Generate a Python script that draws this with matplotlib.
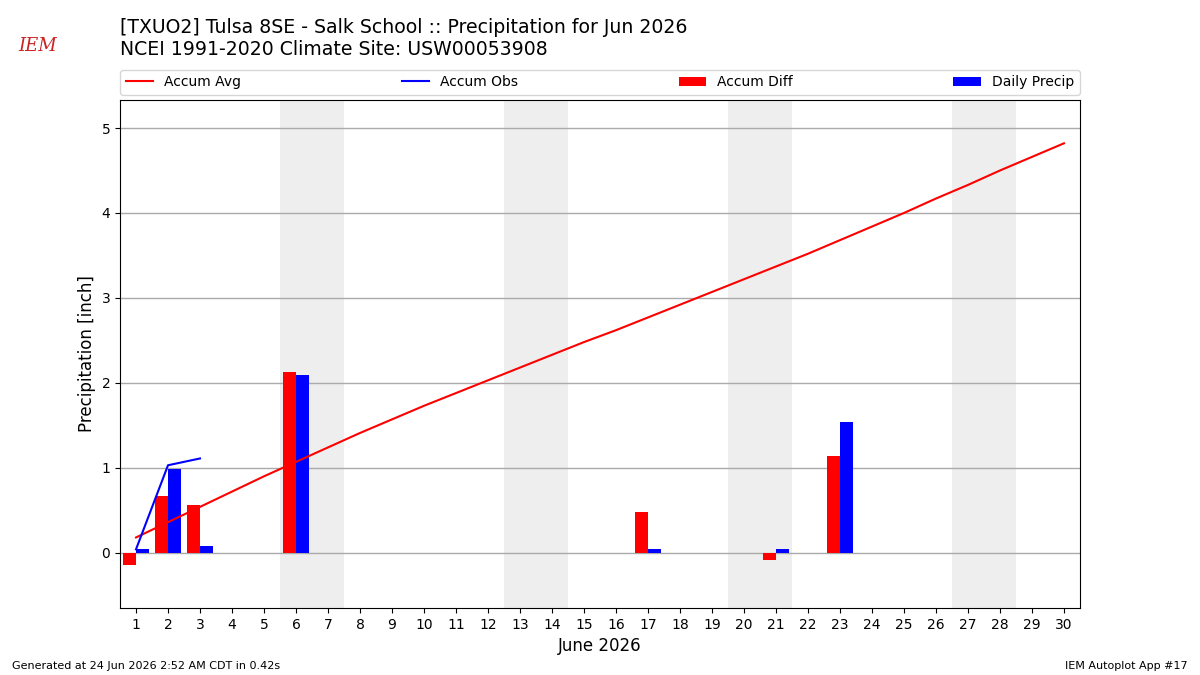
import matplotlib
matplotlib.use("Agg")
import matplotlib.pyplot as plt
import numpy as np

days = list(range(1, 31))
accum_avg = [0.18, 0.36, 0.54, 0.72, 0.90, 1.07, 1.24, 1.41, 1.57, 1.73,
             1.88, 2.03, 2.18, 2.33, 2.48, 2.62, 2.77, 2.92, 3.07, 3.22,
             3.37, 3.52, 3.68, 3.84, 4.00, 4.17, 4.33, 4.50, 4.66, 4.82]
obs_days = [1, 2, 3]
accum_obs = [0.04, 1.03, 1.11]
bar_days = [1, 2, 3, 6, 17, 21, 23]
accum_diff = [-0.14, 0.67, 0.56, 2.13, 0.48, -0.09, 1.14]
daily_precip = [0.04, 0.99, 0.08, 2.09, 0.04, 0.04, 1.54]
weekend_starts = [6, 13, 20, 27]

title = ("[TXUO2] Tulsa 8SE - Salk School :: Precipitation for Jun 2026\n"
         "NCEI 1991-2020 Climate Site: USW00053908")

fig = plt.figure(figsize=(12, 6.75), dpi=100)
ax = fig.add_axes([0.1, 0.0993, 0.8, 0.7526])

for s in weekend_starts:
    ax.axvspan(s - 0.5, s + 1.5, color="#eeeeee", zorder=0, lw=0)

ax.plot(days, accum_avg, color="red", lw=1.5, label="Accum Avg", zorder=3)
ax.plot(obs_days, accum_obs, color="blue", lw=1.5, label="Accum Obs", zorder=3)
ax.bar(np.array(bar_days) - 0.4, accum_diff, width=0.4, align="edge",
       color="red", label="Accum Diff", zorder=2)
ax.bar(np.array(bar_days), daily_precip, width=0.4, align="edge",
       color="blue", label="Daily Precip", zorder=2)

ax.set_xlim(0.5, 30.5)
ax.set_ylim(-0.65, 5.33)
ax.set_xticks(days)
ax.set_yticks([0, 1, 2, 3, 4, 5])
ax.grid(axis="y", color="#aaaaaa", lw=1, zorder=1)
ax.set_axisbelow(True)
ax.set_xlabel("June 2026", fontsize=12)
ax.set_ylabel("Precipitation [inch]", fontsize=12)

ax.legend(loc="lower left", bbox_to_anchor=(0, 1.01, 1, 0.05), mode="expand",
          ncol=4, borderaxespad=0, fontsize=10)

fig.text(0.1, 0.974, title, fontsize=13.6, va="top", ha="left", linespacing=1.2)
fig.text(0.031, 0.932, "IEM", fontsize=13, color="#cc2222", family="DejaVu Serif",
         style="italic", ha="center", va="center")
fig.text(0.01, 0.006, "Generated at 24 Jun 2026 2:52 AM CDT in 0.42s", fontsize=8,
         ha="left", va="bottom")
fig.text(0.99, 0.006, "IEM Autoplot App #17", fontsize=8, ha="right", va="bottom")

fig.savefig("out.png", dpi=100)
